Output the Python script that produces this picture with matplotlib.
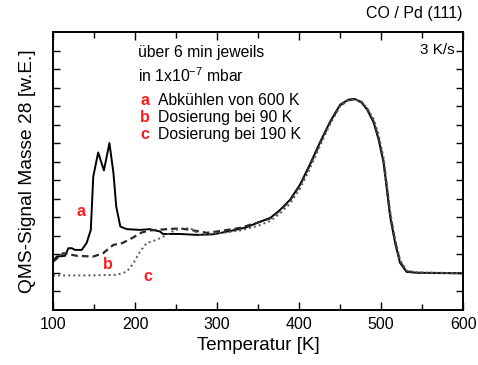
import matplotlib
matplotlib.use("Agg")
import matplotlib.pyplot as plt
import numpy as np

plt.rcParams['font.family'] = ['Liberation Sans', 'DejaVu Sans']
plt.rcParams['mathtext.fontset'] = 'custom'
plt.rcParams['mathtext.rm'] = 'Liberation Sans'
plt.rcParams['mathtext.it'] = 'Liberation Sans:italic'

# temperatures [K] and QMS signal (arb. units)
t_a = [100, 104.5, 114.6, 118.7, 122.8, 126.8, 135, 141, 146, 149, 155, 162, 168.7, 173.6,
       177, 182, 190, 206, 218, 230.5, 234, 255, 275, 295, 315, 335, 350, 365, 377, 389,
       401, 413, 426, 438, 450, 460, 468, 476, 483, 491, 497, 503, 507, 511, 517, 523,
       531, 545, 600]
s_a = [2.61, 2.88, 2.92, 3.33, 3.33, 3.24, 3.24, 3.62, 4.32, 7.2, 8.5, 7.53, 9.01, 7.4,
       5.59, 4.5, 4.36, 4.32, 4.36, 4.23, 4.1, 4.1, 4.05, 4.08, 4.25, 4.45, 4.72, 4.97, 5.41, 5.95,
       6.76, 7.84, 9.10, 10.18, 11.08, 11.35, 11.39, 11.20, 10.81, 10.10, 9.19, 7.95, 6.49, 5.03, 3.62, 2.54,
       2.05, 2.0, 1.98]

t_b = [100, 112.6, 129, 149, 161, 173.5, 184, 196, 208, 218, 239, 255, 267, 288, 310, 328,
       350, 365, 377, 389, 401, 413, 426, 438, 450, 460, 468, 476, 483, 491, 497, 503,
       507, 511, 517, 523, 531, 545, 600]
s_b = [2.61, 3.06, 2.92, 2.88, 3.06, 3.51, 3.6, 3.87, 4.18, 4.29, 4.36, 4.40, 4.32, 4.16, 4.30, 4.43,
       4.72, 4.95, 5.38, 5.92, 6.72, 7.80, 9.05, 10.15, 11.05, 11.33, 11.38, 11.22, 10.85, 10.15, 9.25, 8.0,
       6.6, 5.15, 3.7, 2.6, 2.08, 2.0, 1.98]

t_c = [100, 140, 177.6, 190, 198, 206, 214, 226, 236.6, 249, 255, 267, 279, 307, 330,
       350, 365, 377, 389, 401, 413, 426, 438, 450, 460, 468, 476, 483, 491, 497, 503,
       507, 511, 517, 523, 531, 545, 600]
s_c = [1.86, 1.86, 1.89, 2.07, 2.52, 3.15, 3.6, 3.78, 4.0, 4.32, 4.36, 4.43, 4.05, 4.16, 4.30,
       4.55, 4.80, 5.22, 5.75, 6.55, 7.62, 8.92, 10.05, 11.0, 11.32, 11.38, 11.25, 10.9, 10.3, 9.45, 8.2,
       6.8, 5.3, 3.85, 2.7, 2.12, 2.02, 1.98]

legend_keys = ["a", "b", "c"]
legend_texts = ["Abkühlen von 600 K", "Dosierung bei 90 K", "Dosierung bei 190 K"]
red = "#ff1a1a"

fig = plt.figure(figsize=(4.78, 3.65), dpi=100)
ax = fig.add_axes((0.111, 0.151, 0.858, 0.761))

ax.plot(t_a, s_a, color="k", lw=1.4, ls="-")
ax.plot(t_b, s_b, color="#2a2a2a", lw=1.6, ls=(0, (3, 1.8)))
ax.plot(t_c, s_c, color="#555555", lw=1.4, ls=(0, (1, 1.6)))

ax.set_xlim(100, 600)
ax.set_ylim(0, 15)
ax.set_xticks(np.arange(100, 601, 100))
ax.set_xticks(np.arange(150, 600, 100), minor=True)
ax.set_yticks(np.arange(1, 15, 1))
ax.tick_params(axis="both", which="both", direction="in", top=True, right=True, width=1.0)
ax.tick_params(axis="x", which="major", length=6, labelsize=11.5, pad=5)
ax.tick_params(axis="x", which="minor", length=4)
ax.tick_params(axis="y", which="major", length=5, labelleft=False)
for sp in ax.spines.values():
    sp.set_linewidth(1.4)

ax.set_xlabel("Temperatur [K]", fontsize=13.5, labelpad=4)
ax.set_ylabel("QMS-Signal Masse 28 [w.E.]", fontsize=13.8, labelpad=12)

fig.text(0.967, 0.95, "CO / Pd (111)", ha="right", va="baseline", fontsize=11.5)
ax.text(0.98, 0.935, "3 K/s", transform=ax.transAxes, ha="right", va="center", fontsize=11)
ax.text(0.207, 0.928, "über 6 min jeweils", transform=ax.transAxes, va="center", fontsize=11.3)
ax.text(0.207, 0.845, "in 1x10$^{\\mathregular{-7}}$ mbar", transform=ax.transAxes, va="center", fontsize=11.3)
for i, (k, txt) in enumerate(zip(legend_keys, legend_texts)):
    y = 0.755 - i * 0.061
    ax.text(0.212, y, k, transform=ax.transAxes, va="center", fontsize=11.5, color=red, fontweight="bold")
    ax.text(0.256, y, txt, transform=ax.transAxes, va="center", fontsize=11.3)

ax.text(134, 5.3, "a", ha="center", va="center", fontsize=11.5, color=red, fontweight="bold")
ax.text(167, 2.43, "b", ha="center", va="center", fontsize=11.5, color=red, fontweight="bold")
ax.text(215, 1.78, "c", ha="center", va="center", fontsize=11.5, color=red, fontweight="bold")

fig.savefig("out.png", dpi=100)
